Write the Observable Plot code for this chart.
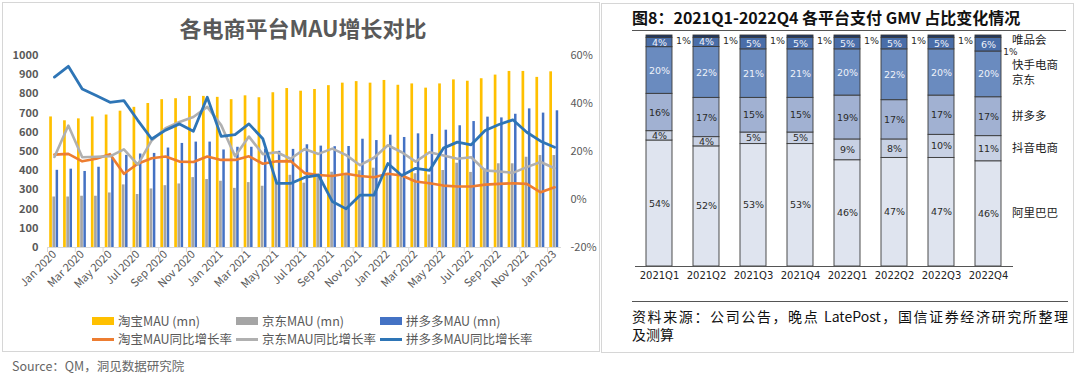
<!DOCTYPE html>
<html><head><meta charset="utf-8">
<script src="https://cdn.jsdelivr.net/npm/d3@7"></script>
<script src="https://cdn.jsdelivr.net/npm/@observablehq/plot@0.6"></script>
<style>
body{margin:0;background:#fff;font-family:"Noto Sans CJK SC","Noto Sans",sans-serif;}
#page{position:relative;width:1080px;height:377px;overflow:hidden;background:#fff}
.abs{position:absolute;white-space:nowrap;line-height:1}
.sw{position:absolute}
#leftChart,#rightChart{position:absolute;top:0}
#leftChart{left:0}
#rightChart{left:603px}
</style></head><body><div id="page">
<div class="abs" style="left:2px;top:2px;width:598px;height:350px;border:1px solid #d6d6d6;box-sizing:border-box;position:absolute"></div>
<div class="abs" style="left:601px;top:3px;width:473px;height:350px;border:1px solid #d6d6d6;box-sizing:border-box;position:absolute"></div>
<div id="leftChart"></div>
<div id="rightChart"></div>
<div class="abs" style="left:3px;width:600px;top:16px;text-align:center;font-size:22px;font-weight:bold;color:#595959">各电商平台MAU增长对比</div>
<div id="legend"></div>
<div class="abs" style="left:12px;top:360px;font-size:12.5px;color:#666">Source：QM，洞见数据研究院</div>
<div class="abs" style="left:632px;top:9px;font-size:16px;font-weight:bold;color:#111">图8：2021Q1-2022Q4 各平台支付 GMV 占比变化情况</div>
<div class="sw" style="left:632px;top:30px;width:434px;height:1px;background:#555"></div>
<div class="sw" style="left:632px;top:301px;width:436px;height:1px;background:#555"></div>
<div class="abs" style="left:632px;top:309px;width:436px;font-size:14px;color:#111;text-align:justify;text-align-last:justify">资料来源：公司公告，晚点 LatePost，国信证券经济研究所整理</div>
<div class="abs" style="left:632px;top:327px;font-size:14px;color:#111">及测算</div>
<div id="rlabels"></div>
</div>
<script>
// ---------- Left chart data ----------
const months = ["Jan 2020","Feb 2020","Mar 2020","Apr 2020","May 2020","Jun 2020","Jul 2020","Aug 2020","Sep 2020","Oct 2020","Nov 2020","Dec 2020",
"Jan 2021","Feb 2021","Mar 2021","Apr 2021","May 2021","Jun 2021","Jul 2021","Aug 2021","Sep 2021","Oct 2021","Nov 2021","Dec 2021",
"Jan 2022","Feb 2022","Mar 2022","Apr 2022","May 2022","Jun 2022","Jul 2022","Aug 2022","Sep 2022","Oct 2022","Nov 2022","Dec 2022","Jan 2023"];
const taobaoMAU = [680,660,670,680,690,710,730,750,770,775,787,787,782,770,790,780,806,828,814,823,843,856,864,856,870,845,852,830,852,873,866,879,898,917,917,886,915];
const jdMAU = [263,263,267,267,284,326,276,305,322,331,364,354,345,308,338,319,350,376,335,378,392,380,400,413,378,366,384,378,401,439,391,410,436,436,470,479,479];
const pddMAU = [402,408,396,418,465,480,487,490,518,542,549,549,508,522,522,512,501,511,535,528,525,526,564,557,585,573,592,589,611,634,656,679,675,694,722,700,712];
const taobaoYoY = [18.7,19,15.9,17,18.9,10.7,14.9,17.2,17.9,15.8,15.6,17.9,16.5,16.5,18,14.9,15.9,16,11,10.2,9.8,10.7,9.8,9.3,10.7,10,7.5,6.8,5.8,5.4,5.4,6.2,6.5,6.8,6.5,3,5.1];
const jdYoY = [17.7,30.8,17.6,17.8,18,20.9,14.5,24.6,29.7,32.3,34.4,38.6,31,18,26.2,18.9,19.7,17,21,19,21.2,18.5,14.3,17.4,22.6,19.7,15.8,19.7,18.3,17,17.6,12.1,11.7,11.1,13.5,15.6,13];
const pddYoY = [51,55.5,46,43.3,40.5,41.2,33,25.2,28.9,31.5,28.4,42.6,26.3,27,31.5,25.3,6.7,6.7,9.2,10.2,-0.8,-3.9,1.8,1.8,15,10,13,12.1,21.4,23.9,22.8,28.75,31.25,33.2,28,24.3,21.8];
const leftTicks = [0,100,200,300,400,500,600,700,800,900,1000];
const rightTickValues = [-20,0,20,40,60];
const rightTickLabels = ["-20%","0%","20%","40%","60%"];

// ---------- Right chart data ----------
const quarters = ["2021Q1","2021Q2","2021Q3","2021Q4","2022Q1","2022Q2","2022Q3","2022Q4"];
const platforms = ["阿里巴巴","抖音电商","拼多多","京东","快手电商","唯品会"];
const alibaba = [54,52,53,53,46,47,47,46];
const douyin = [4,4,5,5,9,8,10,11];
const pdd = [16,17,15,15,19,17,17,17];
const jd = [20,22,21,21,20,22,20,20];
const kuaishou = [4,4,5,5,5,5,5,6];
const vip = [1,1,1,1,1,1,1,1];

const fontCJK = '"Noto Sans CJK SC","Noto Sans",sans-serif';

// ----- left chart -----
const LW = 600, LH = 310, LML = 47, LMR = 39;
const bw = (LW - LML - LMR) / months.length;
const pct = d3.scaleLinear([-20, 60], [0, 1000]);
const mau = months.map((m, i) => ({month: m, taobao: taobaoMAU[i], jd: jdMAU[i], pdd: pddMAU[i],
  tY: taobaoYoY[i], jY: jdYoY[i], pY: pddYoY[i]}));
const evenMonths = months.filter((_, i) => i % 2 === 0);

const left = Plot.plot({
  width: LW, height: LH, marginLeft: LML, marginRight: LMR, marginTop: 55, marginBottom: LH - 247,
  style: {fontFamily: fontCJK, fontSize: "11px", color: "#595959", background: "transparent", overflow: "visible"},
  x: {type: "band", domain: months, padding: 0},
  y: {domain: [0, 1000]},
  marks: [
    Plot.barY(mau, {x: "month", y: "taobao", fill: "#ffc000", insetLeft: 2.2, insetRight: bw - 4.9}),
    Plot.barY(mau, {x: "month", y: "jd", fill: "#a5a5a5", insetLeft: 5.4, insetRight: bw - 8.1}),
    Plot.barY(mau, {x: "month", y: "pdd", fill: "#4472c4", insetLeft: 8.6, insetRight: bw - 11.1}),
    Plot.ruleY([0], {stroke: "#d9d9d9"}),
    Plot.ruleX(evenMonths, {x: d => d, y1: 0, y2: -26, dx: -bw / 2, stroke: "#d9d9d9"}),
    Plot.line(mau, {x: "month", y: d => pct(d.tY), stroke: "#ed7d31", strokeWidth: 2.6}),
    Plot.line(mau, {x: "month", y: d => pct(d.jY), stroke: "#b0b0b0", strokeWidth: 2.6}),
    Plot.line(mau, {x: "month", y: d => pct(d.pY), stroke: "#2e75b6", strokeWidth: 2.8}),
    Plot.axisX({ticks: evenMonths, tickSize: 0, tickPadding: 5, tickRotate: -45, fontSize: 11, label: null}),
    Plot.axisY({anchor: "left", ticks: leftTicks, tickFormat: d => String(d), tickSize: 0, tickPadding: 9, fontWeight: 600, label: null}),
    Plot.axisY({anchor: "right", ticks: rightTickValues.map(v => pct(v)), tickSize: 0, tickPadding: 9, label: null,
      tickFormat: d => rightTickLabels[rightTickValues.indexOf(Math.round(pct.invert(d)))]})
  ]
});
document.getElementById("leftChart").appendChild(left);

// legend (left)
const legendItems = [
  {label: "淘宝MAU (mn)", color: "#ffc000", kind: "rect", x: 92, y: 321},
  {label: "京东MAU (mn)", color: "#a5a5a5", kind: "rect", x: 236, y: 321},
  {label: "拼多多MAU (mn)", color: "#4472c4", kind: "rect", x: 380, y: 321},
  {label: "淘宝MAU同比增长率", color: "#ed7d31", kind: "line", x: 92, y: 339},
  {label: "京东MAU同比增长率", color: "#b0b0b0", kind: "line", x: 236, y: 339},
  {label: "拼多多MAU同比增长率", color: "#2e75b6", kind: "line", x: 380, y: 339}
];
const lg = document.getElementById("legend");
for (const it of legendItems) {
  const s = document.createElement("div");
  s.className = "sw";
  const h = it.kind === "rect" ? 8 : 3;
  s.style.cssText = `left:${it.x}px;top:${it.y - h / 2}px;width:22px;height:${h}px;background:${it.color}`;
  lg.appendChild(s);
  const t = document.createElement("div");
  t.className = "abs";
  t.style.cssText = `left:${it.x + 26}px;top:${it.y - 6.5}px;font-size:12.5px;color:#595959`;
  t.textContent = it.label;
  lg.appendChild(t);
}

// ----- right chart -----
const series = [alibaba, douyin, pdd, jd, kuaishou, vip];
const gmv = [];
quarters.forEach((q, i) => platforms.forEach((p, j) => gmv.push({q, p, v: series[j][i]})));
const light = new Set(["京东", "快手电商"]);
const stackOpts = {x: "q", y: "v", z: "p", order: platforms, offset: "normalize"};
const RW = 470, RH = 290;
const right = Plot.plot({
  width: RW, height: RH, marginLeft: 21.5, marginRight: 49.7, marginTop: 35, marginBottom: RH - 266,
  style: {fontFamily: '"DejaVu Sans",sans-serif', fontSize: "10px", color: "#222", background: "transparent", overflow: "visible"},
  x: {type: "band", domain: quarters, padding: 0.45},
  y: {domain: [0, 1], axis: null},
  color: {domain: platforms, range: ["#dfe4ef", "#c8d1e4", "#a1b1d2", "#6a8bbf", "#4a6ea9", "#1f3864"]},
  marks: [
    Plot.barY(gmv, Plot.stackY({...stackOpts, fill: "p", stroke: "#3a3a3a", strokeWidth: 0.9})),
    Plot.ruleY([0], {stroke: "#555", insetLeft: 10.5, insetRight: 10.3}),
    Plot.text(gmv, Plot.stackY({...stackOpts, text: d => (d.p !== "唯品会" && !light.has(d.p)) ? d.v + "%" : "", fill: "#2a2a2a", fontSize: 9.5})),
    Plot.text(gmv, Plot.stackY({...stackOpts, text: d => light.has(d.p) ? d.v + "%" : "", fill: "#eef2fa", fontSize: 9.5})),
    Plot.text(gmv, Plot.stackY({...stackOpts, text: d => (d.p === "唯品会" && d.q !== "2022Q4") ? d.v + "%" : "", fill: "#2a2a2a", fontSize: 9.5, dx: 24, dy: 4.5})),
    Plot.text(gmv, Plot.stackY({...stackOpts, text: d => (d.p === "唯品会" && d.q === "2022Q4") ? d.v + "%" : "", fill: "#2a2a2a", fontSize: 9, dx: 22, dy: 15})),
    Plot.axisX({tickSize: 0, tickPadding: 5, fontSize: 10, label: null})
  ]
});
document.getElementById("rightChart").appendChild(right);

// right-side category labels
const rLabels = [["唯品会", 40], ["快手电商", 65], ["京东", 80], ["拼多多", 116], ["抖音电商", 148], ["阿里巴巴", 213]];
const rl = document.getElementById("rlabels");
for (const [t, y] of rLabels) {
  const d = document.createElement("div");
  d.className = "abs";
  d.style.cssText = `left:1012px;top:${y - 6}px;font-size:11.5px;color:#222`;
  d.textContent = t;
  rl.appendChild(d);
}
</script>
</body></html>
